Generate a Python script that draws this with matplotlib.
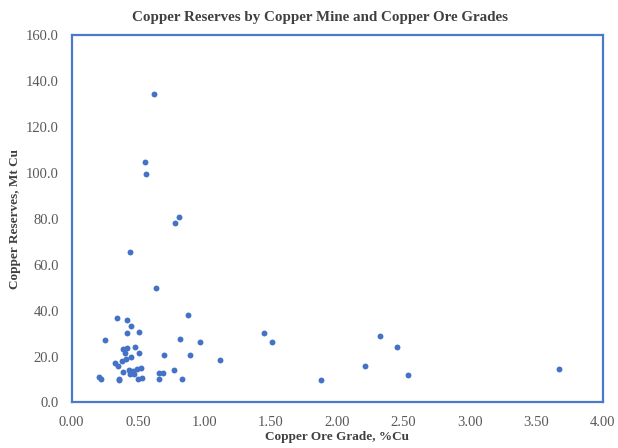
import matplotlib.pyplot as plt

# Copper ore grade (%Cu) and copper reserves (Mt Cu) per mine
grade = [0.62, 0.55, 0.56, 0.81, 0.78, 0.44, 0.64, 0.88, 0.34, 0.42,
         0.45, 0.42, 0.51, 0.25, 0.82, 0.97, 1.45, 1.51, 2.32, 2.45,
         0.39, 0.42, 0.48, 0.40, 0.51, 0.70, 0.89, 1.12, 0.45, 0.41,
         0.38, 0.33, 0.35, 2.21, 3.67, 0.39, 0.43, 0.44, 0.47, 0.49,
         0.52, 0.66, 0.69, 0.66, 0.77, 0.83, 0.21, 0.22, 0.36, 0.50,
         0.53, 1.88, 2.53, 0.46, 0.36]
reserves = [134.2, 104.5, 99.3, 80.8, 78.3, 65.7, 50.0, 37.9, 36.7, 35.7,
            33.4, 30.3, 30.8, 27.1, 27.6, 26.4, 30.2, 26.4, 28.9, 24.2,
            23.3, 23.9, 24.3, 21.6, 21.7, 20.6, 20.6, 18.4, 19.9, 18.8,
            18.0, 17.4, 15.9, 16.1, 14.5, 13.3, 14.0, 12.6, 12.3, 14.5,
            14.9, 12.7, 12.7, 10.1, 14.2, 10.4, 11.1, 10.4, 10.4, 10.3,
            10.7, 10.0, 12.1, 13.6, 9.8]

x_ticks = [0, 0.5, 1.0, 1.5, 2.0, 2.5, 3.0, 3.5, 4.0]
y_ticks = [0, 20, 40, 60, 80, 100, 120, 140, 160]

plt.rcParams['font.family'] = ['Liberation Serif', 'DejaVu Serif']

fig = plt.figure(figsize=(6.18, 4.48), dpi=100)
ax = fig.add_axes([0.1157, 0.1016, 0.8596, 0.8203])

ax.scatter(grade, reserves, s=18, color='#4472C4', zorder=3, linewidths=0)

ax.set_xlim(0, 4)
ax.set_ylim(0, 160)
ax.set_xticks(x_ticks)
ax.set_yticks(y_ticks)
ax.set_xticklabels([f'{v:.2f}' for v in x_ticks])
ax.set_yticklabels([f'{v:.1f}' for v in y_ticks])
ax.tick_params(length=0, labelsize=10.5, labelcolor='#595959')
ax.tick_params(axis='x', pad=10)
ax.tick_params(axis='y', pad=9)

for sp in ax.spines.values():
    sp.set_color('#4A7BC8')
    sp.set_linewidth(1.6)

fig.text(0.518, 0.962, 'Copper Reserves by Copper Mine and Copper Ore Grades',
         ha='center', va='center', fontsize=10.8, fontweight='bold', color='#404040')
ax.set_xlabel('Copper Ore Grade, %Cu', fontsize=9.5, fontweight='bold', color='#404040')
ax.set_ylabel('Copper Reserves, Mt Cu', fontsize=9.5, fontweight='bold', color='#404040')
ax.xaxis.set_label_coords(0.5, -0.094)
ax.yaxis.set_label_coords(-0.106, 0.5)
ax.xaxis.label.set_va('center')
ax.yaxis.label.set_va('center')

fig.savefig('out.png', dpi=100)
